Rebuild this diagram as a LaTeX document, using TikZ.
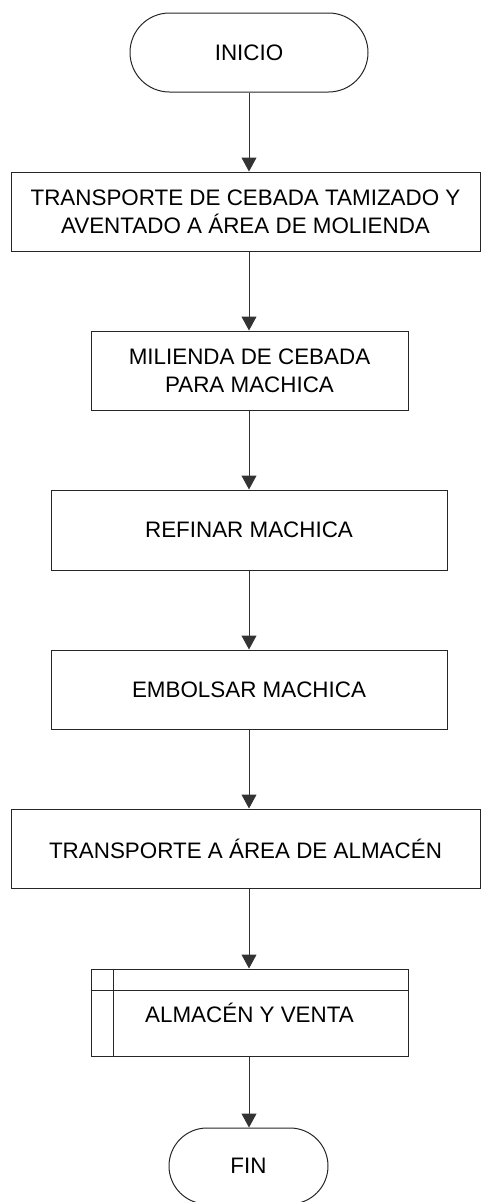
\documentclass[tikz,border=0pt]{standalone}
\usepackage{fontspec}
\setmainfont{Liberation Sans}
\usetikzlibrary{shapes.misc,arrows.meta,calc}
\begin{document}
\begin{tikzpicture}[x=1pt,y=-1pt,
  every node/.style={font=\fontsize{22.4}{28}\selectfont, text=black},
  procbox/.style={draw=black!85, line width=1pt, rectangle, inner sep=0pt, align=center},
  term/.style={draw=black!85, line width=1pt, rounded rectangle, rounded rectangle arc length=180, inner sep=0pt},
  arr/.style={draw=black!80, line width=1pt, -{Triangle[width=15pt,length=14pt]}}]
\useasboundingbox (0,0) rectangle (481,1202);
\node[term, minimum width=238pt, minimum height=79pt] (ini) at (249,52.5) {INICIO};
\node[procbox, minimum width=469pt, minimum height=79pt] (b1) at (245.5,211.5) {TRANSPORTE DE CEBADA TAMIZADO Y\\AVENTADO A ÁREA DE MOLIENDA};
\node[procbox, minimum width=317pt, minimum height=79pt] (b2) at (249.5,370.5) {MILIENDA DE CEBADA\\PARA MACHICA};
\node[procbox, minimum width=396pt, minimum height=80pt] (b3) at (249,530) {REFINAR MACHICA};
\node[procbox, minimum width=396pt, minimum height=79pt] (b4) at (249,689.5) {EMBOLSAR MACHICA};
\node[procbox, minimum width=469pt, minimum height=79pt] (b5) at (245.5,848.5) {TRANSPORTE A ÁREA DE ALMACÉN};
\node[procbox, minimum width=317pt, minimum height=87pt] (b6) at (249.5,1012.5) {ALMACÉN Y VENTA};
\draw[draw=black!85, line width=1pt] ($(b6.north west)+(0,22)$) -- ($(b6.north east)+(0,22)$);
\draw[draw=black!85, line width=1pt] ($(b6.north west)+(23,0)$) -- ($(b6.south west)+(23,0)$);
\node[term, minimum width=159pt, minimum height=76pt] (fin) at (248.5,1166) {FIN};
\draw[arr] (ini.south) -- (ini.south |- b1.north);
\draw[arr] (ini.south |- b1.south) -- (ini.south |- b2.north);
\draw[arr] (ini.south |- b2.south) -- (ini.south |- b3.north);
\draw[arr] (b3.south) -- (b4.north);
\draw[arr] (b4.south) -- (b4.south |- b5.north);
\draw[arr] (b4.south |- b5.south) -- (b4.south |- b6.north);
\draw[arr] (b4.south |- b6.south) -- (b4.south |- fin.north);
\end{tikzpicture}
\end{document}
